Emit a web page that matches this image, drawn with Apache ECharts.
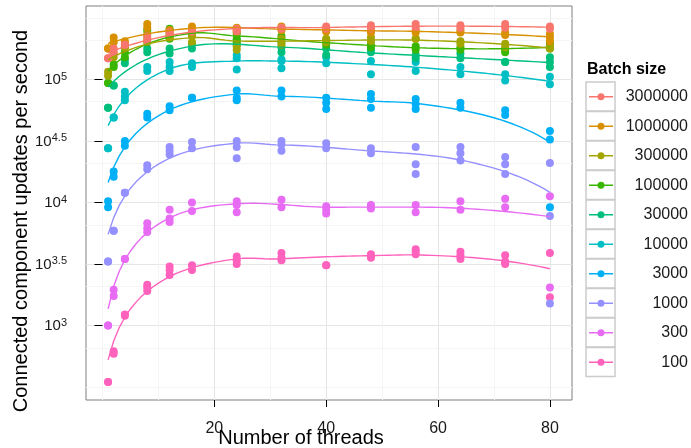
<!DOCTYPE html>
<html>
<head>
<meta charset="utf-8">
<script src="https://cdn.jsdelivr.net/npm/echarts@6/dist/echarts.min.js"></script>
<style>
html,body{margin:0;padding:0;background:#fff;}
#chart{width:691px;height:448px;}
</style>
</head>
<body>
<div id="chart"></div>
<script>
// ---- data ----
const threads = [1, 2, 4, 8, 12, 16, 24, 32, 40, 48, 56, 64, 72, 80];
const batchSizes = ['3000000', '1000000', '300000', '100000', '30000', '10000', '3000', '1000', '300', '100'];
const yTickExponents = [3, 3.5, 4, 4.5, 5];
const xTicks = [20, 40, 60, 80];
const xTitle = 'Number of threads';
const yTitle = 'Connected component updates per second';
const legendTitle = 'Batch size';

// connected component updates per second; one list of repeated runs per thread count
const ups3000000 = [[148000,148000],[178000,166000],[191000,191000],[224000,204000],[240000,240000],[245000,245000],[257000,245000],[263000,257000],[269000,257000],[275000,257000],[282000,263000],[275000,263000],[282000,263000],[269000,257000]];
const ups1000000 = [[178000,178000],[219000,200000],[204000,195000],[282000,263000],[251000,251000],[269000,251000],[263000,251000],[269000,251000],[251000,245000],[251000,240000],[251000,240000],[251000,240000],[240000,229000],[234000,219000,204000]];
const ups300000 = [[115000,107000],[162000,151000],[182000,182000],[234000,214000],[234000,219000],[224000,200000],[240000,186000,174000],[214000,191000],[214000,200000],[219000,204000],[214000,214000],[204000,195000],[195000,182000],[186000,178000]];
const ups100000 = [[93300,93300],[132000,126000],[166000,151000],[251000,200000],[257000,229000,214000],[251000,229000],[234000,214000,200000],[224000,200000],[209000,191000],[191000,182000],[186000,174000],[182000,174000],[174000,166000],[195000,178000]];
const ups30000 = [[58900,58900],[89100,89100],[145000,135000],[178000,166000],[178000,162000],[195000,178000],[209000,191000],[182000,166000],[178000,158000],[174000,166000],[158000,148000],[162000,148000],[138000,138000],[151000,138000,126000]];
const ups10000 = [[27500,27500],[49000,49000],[79400,72400,67600],[126000,117000],[138000,126000,117000],[135000,126000],[158000,148000,120000],[141000,145000,123000],[151000,135000],[141000,110000],[138000,117000],[126000,110000],[110000,97700],[105000,91200]];
const ups3000 = [[10200,9120],[17800,16200],[31600,28800],[52500,49000],[60300,56200],[70800,70800],[81300,70800,67600],[81300,72400],[70800,64600,57500],[75900,69200,58900],[69200,63100,57500],[64600,58900],[56200,51300],[38000,32400,9120]];
const ups1000 = [[3310,3310],[5890,5890],[12000,12000],[20000,18600],[28200,26300,24500],[30900,27500],[31600,28200,22900],[31600,29500,26300],[30200,27500],[27500,25100],[28200,20400,17000],[28200,25100,21900],[23400,20400,17000],[20900,7760,1510]];
const ups300 = [[1000,1000],[1950,1740],[3470,3470],[6760,6170,5750],[8710,7410,6920],[10000,8510],[10200,9550,8320],[10500,9120],[9330,8710,8130],[9550,8910],[9550,8320],[10200,8710],[10700,9120],[11200,2040]];
const ups100 = [[347,347],[617,589],[1230,1200],[2140,2040,1910],[3020,2820,2570],[3090,2820],[3630,3390,3160],[3890,3550,3390],[3090,3090],[3800,3630,3550],[4170,3980,3800],[3980,3720,3470],[3720,3310,3240,3160],[3890,1700]];

const dataByBatch = [ups3000000, ups1000000, ups300000, ups100000, ups30000, ups10000, ups3000, ups1000, ups300, ups100];
const colors = ['#F8766D','#D89000','#A3A500','#39B600','#00BF7D','#00BFC4','#00B0F6','#9590FF','#E76BF3','#FF62BC'];

// ---- loess (degree 2, span 0.75, tricube weights, kd-tree vertex interpolation) ----
const loessSpan = 0.75, loessCell = 0.3;
function localFit(xs, ys, x0, span) {
  const n = xs.length;
  const q = Math.max(3, Math.floor(n * span));
  const d = xs.map(x => Math.abs(x - x0));
  const s = d.slice().sort((a, b) => a - b);
  let h = s[Math.min(q, n) - 1];
  if (h <= 0) h = 1e-9;
  let S = [0,0,0,0,0], T = [0,0,0];
  for (let i = 0; i < n; i++) {
    const r = d[i] / h;
    if (r >= 1) continue;
    const w = Math.pow(1 - r * r * r, 3);
    const t = xs[i] - x0;
    let p = w;
    for (let k = 0; k < 5; k++) { S[k] += p; if (k < 3) T[k] += p * ys[i]; p *= t; }
  }
  const A = [[S[0],S[1],S[2],T[0]],[S[1],S[2],S[3],T[1]],[S[2],S[3],S[4],T[2]]];
  for (let c = 0; c < 3; c++) {
    let piv = c;
    for (let r = c + 1; r < 3; r++) if (Math.abs(A[r][c]) > Math.abs(A[piv][c])) piv = r;
    [A[c], A[piv]] = [A[piv], A[c]];
    for (let r = 0; r < 3; r++) {
      if (r === c) continue;
      const f = A[r][c] / A[c][c];
      for (let k = c; k < 4; k++) A[r][k] -= f * A[c][k];
    }
  }
  return [A[0][3] / A[0][0], A[1][3] / A[1][1]];
}

function loessCurve(xs, ys, span, cell, nOut) {
  const sx = xs.slice().sort((a, b) => a - b);
  const n = sx.length;
  const fc = Math.floor(n * span * cell);
  const xmin = sx[0], xmax = sx[n - 1];
  const mu = 0.005 * Math.max(xmax - xmin, 1e-10);
  const verts = [xmin - mu, xmax + mu];
  (function split(l, u, lo, hi) {
    if (u - l + 1 <= fc) return;
    const m = Math.floor((l + 1 + u + 1) / 2) - 1;
    const v = sx[m];
    if (v === lo || v === hi) return;
    verts.push(v);
    split(l, m, lo, v);
    split(m + 1, u, v, hi);
  })(0, n - 1, verts[0], verts[1]);
  verts.sort((a, b) => a - b);
  const vfit = verts.map(v => localFit(xs, ys, v, span));
  const out = [];
  for (let k = 0; k < nOut; k++) {
    const x = xmin + (xmax - xmin) * k / (nOut - 1);
    let j = 0;
    while (j < verts.length - 2 && x > verts[j + 1]) j++;
    const a = verts[j], b = verts[j + 1], hh = b - a;
    const t = (x - a) / hh;
    const h00 = 2*t*t*t - 3*t*t + 1, h10 = t*t*t - 2*t*t + t, h01 = -2*t*t*t + 3*t*t, h11 = t*t*t - t*t;
    const f = h00 * vfit[j][0] + h10 * hh * vfit[j][1] + h01 * vfit[j + 1][0] + h11 * hh * vfit[j + 1][1];
    if (f > 0) out.push([x, Math.log10(f)]);
  }
  return out;
}

// ---- build series ----
const series = [];
let allLog = [];
for (let i = batchSizes.length - 1; i >= 0; i--) {
  const pts = [], xs = [], ys = [];
  dataByBatch[i].forEach((runs, j) => runs.forEach(v => {
    pts.push([threads[j], Math.log10(v)]);
    xs.push(threads[j]); ys.push(v);
    allLog.push(Math.log10(v));
  }));
  const curve = loessCurve(xs, ys, loessSpan, loessCell, 80);
  series.push({
    name: batchSizes[i], type: 'scatter', data: pts, symbolSize: 8, z: 2,
    itemStyle: { color: colors[i], opacity: 1 }, emphasis: { disabled: true }
  });
  series.push({
    name: batchSizes[i], type: 'line', data: curve, showSymbol: false, z: 3,
    lineStyle: { color: colors[i], width: 1.4 }, itemStyle: { color: colors[i] },
    emphasis: { disabled: true }
  });
}

// axis ranges (5% expansion like ggplot)
const tMin = Math.min(...threads), tMax = Math.max(...threads);
const xMin = tMin - 0.05 * (tMax - tMin), xMax = tMax + 0.05 * (tMax - tMin);
const lo = Math.min(...allLog), hi = Math.max(...allLog);
const yMin = lo - 0.05 * (hi - lo), yMax = hi + 0.05 * (hi - lo);

// minor breaks
const xStep = xTicks[1] - xTicks[0];
const xMinor = [];
for (let v = xTicks[0] - xStep; v <= xTicks[xTicks.length - 1] + xStep; v += xStep / 2) {
  if (!xTicks.includes(v) && v >= xMin && v <= xMax) xMinor.push(v);
}
const yStep = yTickExponents[1] - yTickExponents[0];
const yExt = [yTickExponents[0] - yStep, ...yTickExponents, yTickExponents[yTickExponents.length - 1] + yStep];
const yMinor = [];
for (let k = 0; k < yExt.length; k++) {
  if (k === 0 || k === yExt.length - 1) yMinor.push(yExt[k]);
  if (k < yExt.length - 1) yMinor.push(Math.log10((Math.pow(10, yExt[k]) + Math.pow(10, yExt[k + 1])) / 2));
}
const yMinorIn = yMinor.filter(v => v >= yMin && v <= yMax).sort((a, b) => a - b);

const FONT = 'Liberation Sans, Arial, Helvetica, sans-serif';
const textCol = '#1a1a1a';

// legend key boxes
const graphics = [];
batchSizes.forEach((b, i) => {
  graphics.push({
    type: 'rect', z: 1,
    shape: { x: 586, y: 82 + i * 29.5, width: 29, height: 29 },
    style: { fill: '#ffffff', stroke: '#cccccc', lineWidth: 1.5 }
  });
});
graphics.push({
  type: 'text', x: 587, y: 69.5, z: 5,
  style: { text: legendTitle, font: 'bold 16px ' + FONT, fill: '#000', textAlign: 'left', textVerticalAlign: 'middle' }
});
graphics.push({
  type: 'text', x: 301, y: 438, z: 5,
  style: { text: xTitle, font: '20px ' + FONT, fill: '#000', textAlign: 'center', textVerticalAlign: 'middle' }
});
graphics.push({
  type: 'text', x: 21, y: 221, rotation: Math.PI / 2, z: 5,
  style: { text: yTitle, font: '20px ' + FONT, fill: '#000', textAlign: 'center', textVerticalAlign: 'middle' }
});

const chart = echarts.init(document.getElementById('chart'), null, { renderer: 'canvas' });
chart.setOption({
  animation: false,
  backgroundColor: '#ffffff',
  textStyle: { fontFamily: FONT },
  grid: { left: 86, right: 119, top: 6, bottom: 48, show: true, borderColor: '#7f7f7f', borderWidth: 1, backgroundColor: '#ffffff', containLabel: false, outerBoundsMode: 'none' },
  xAxis: [
    {
      type: 'value', min: xMin, max: xMax,
      axisLine: { show: false },
      axisTick: { show: true, customValues: xTicks, length: 7, lineStyle: { color: '#000', width: 1 } },
      axisLabel: { customValues: xTicks, fontSize: 16, color: textCol, margin: 21, fontFamily: FONT },
      splitLine: { show: true, lineStyle: { color: '#e5e5e5', width: 1 } }
    },
    {
      type: 'value', min: xMin, max: xMax, position: 'bottom',
      axisLine: { show: false },
      axisTick: { show: false, customValues: xMinor },
      axisLabel: { show: false, customValues: xMinor },
      splitLine: { show: true, lineStyle: { color: '#f5f5f5', width: 1 } }
    }
  ],
  yAxis: [
    {
      type: 'value', min: yMin, max: yMax,
      axisLine: { show: false },
      axisTick: { show: true, customValues: yTickExponents, length: 8, lineStyle: { color: '#000', width: 1 } },
      axisLabel: {
        customValues: yTickExponents, margin: 19, color: textCol, fontFamily: FONT,
        formatter: v => '{b|10}{s|' + String(+v.toFixed(2)) + '}',
        rich: {
          b: { fontSize: 15, color: textCol, fontFamily: FONT, lineHeight: 16, verticalAlign: 'bottom' },
          s: { fontSize: 11, color: textCol, fontFamily: FONT, lineHeight: 11, verticalAlign: 'top', padding: [0, 0, 9, 0] }
        }
      },
      splitLine: { show: true, lineStyle: { color: '#e5e5e5', width: 1 } }
    },
    {
      type: 'value', min: yMin, max: yMax, position: 'left',
      axisLine: { show: false },
      axisTick: { show: false, customValues: yMinorIn },
      axisLabel: { show: false, customValues: yMinorIn },
      splitLine: { show: true, lineStyle: { color: '#f5f5f5', width: 1 } }
    }
  ],
  legend: {
    orient: 'vertical', left: 589, top: 86.75, padding: 0,
    itemWidth: 24, itemHeight: 7, itemGap: 9.5,
    icon: 'path://M0,3.3 L24,3.3 L24,4.7 L0,4.7 Z M12,0.5 A3.5,3.5 0 1 1 11.99,0.5 Z',
    selectedMode: false,
    data: batchSizes,
    formatter: n => '{a|' + n + '}',
    textStyle: {
      fontSize: 16, lineHeight: 20, color: textCol, fontFamily: FONT,
      rich: { a: { width: 70, align: 'right', fontSize: 16, lineHeight: 20, color: textCol, fontFamily: FONT } }
    }
  },
  graphic: graphics,
  series: series
});
</script>
</body>
</html>
